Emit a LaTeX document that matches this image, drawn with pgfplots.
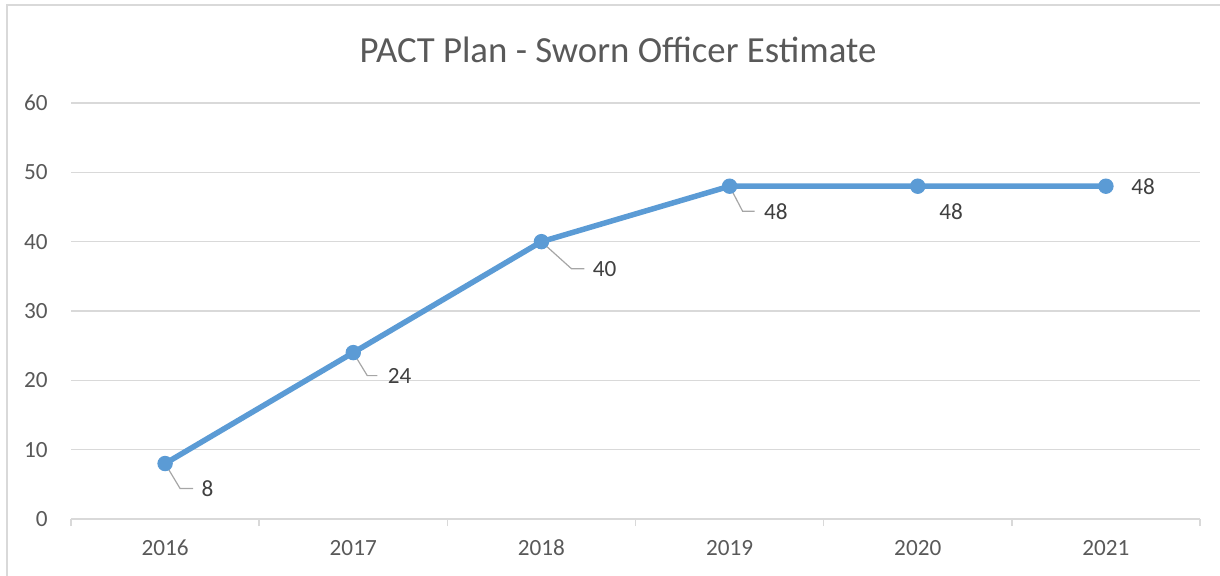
\documentclass[border=0pt]{standalone}
\usepackage{fontspec}
\setmainfont{Carlito}
\usepackage{pgfplots}
\pgfplotsset{compat=1.18}
\definecolor{lineblue}{HTML}{5B9BD5}
\definecolor{gridc}{HTML}{D9D9D9}
\definecolor{ticktext}{HTML}{595959}
\definecolor{labtext}{HTML}{404040}
\definecolor{leaderc}{HTML}{A6A6A6}

\newcommand{\leader}[5]{%
  \draw[leaderc, line width=0.6pt] (axis cs:#1,#2) -- ([shift={(#3pt,#4pt)}]axis cs:#1,#2)
    -- ([shift={(#5pt,#4pt)}]axis cs:#1,#2);}

\begin{document}
\begin{tikzpicture}
\path[use as bounding box] (0,0) rectangle (610pt,287.5pt);
\draw[gridc, line width=0.9pt] (3.5pt,-2pt) -- (3.5pt,285pt) -- (612pt,285pt);
\node[anchor=base, text=ticktext, font=\fontsize{18.4}{22}\selectfont] at (309pt,256.5pt)
  {PACT Plan - Sworn Officer Estimate};
\begin{axis}[
  at={(35.5pt,28pt)}, anchor=south west,
  scale only axis, width=564.5pt, height=208pt,
  xmin=-0.5, xmax=5.5, ymin=0, ymax=60,
  /pgf/number format/assume math mode=true,
  ytick={0,10,...,60},
  xtick={-0.5,0.5,...,5.5}, xticklabels={},
  extra x ticks={0,1,2,3,4,5},
  extra x tick labels={2016,2017,2018,2019,2020,2021},
  extra x tick style={major tick length=0pt, grid=none,
    xticklabel style={anchor=center, yshift=-14.5pt}},
  axis line style={draw=none},
  ymajorgrids, grid style={gridc, line width=0.75pt},
  xtick style={draw=gridc, line width=0.75pt},
  ytick style={draw=none},
  tick pos=left,
  major tick length=3.5pt, tick align=outside,
  tick label style={font=\fontsize{11.6}{14}\selectfont, text=ticktext},
  yticklabel style={inner sep=0pt, anchor=east, xshift=-8pt},
  clip=false,
]
\addplot[lineblue, line width=2.75pt, mark=*, mark size=3.6pt,
  mark options={fill=lineblue, draw=lineblue, line width=0.5pt},
  visualization depends on={\thisrow{tx} \as \tx},
  visualization depends on={\thisrow{ty} \as \ty},
  point meta=\thisrow{y},
  nodes near coords={\pgfmathprintnumber[assume math mode=true]{\pgfplotspointmeta}},
  every node near coord/.append style={anchor=west, inner sep=0pt,
    xshift=\tx pt, yshift=\ty pt, text=labtext,
    font=\fontsize{11.6}{14}\selectfont},
] table {
x y tx ty
0 8 18 -12.5
1 24 17 -11.5
2 40 25.5 -13.5
3 48 17 -12.5
4 48 10.5 -12.5
5 48 12.5 0
};
\leader{0}{8}{7.5}{-12.5}{14}
\leader{1}{24}{7}{-11.5}{12}
\leader{2}{40}{15}{-13.5}{21.5}
\leader{3}{48}{6.5}{-12.5}{12.5}
\end{axis}
\end{tikzpicture}
\end{document}
